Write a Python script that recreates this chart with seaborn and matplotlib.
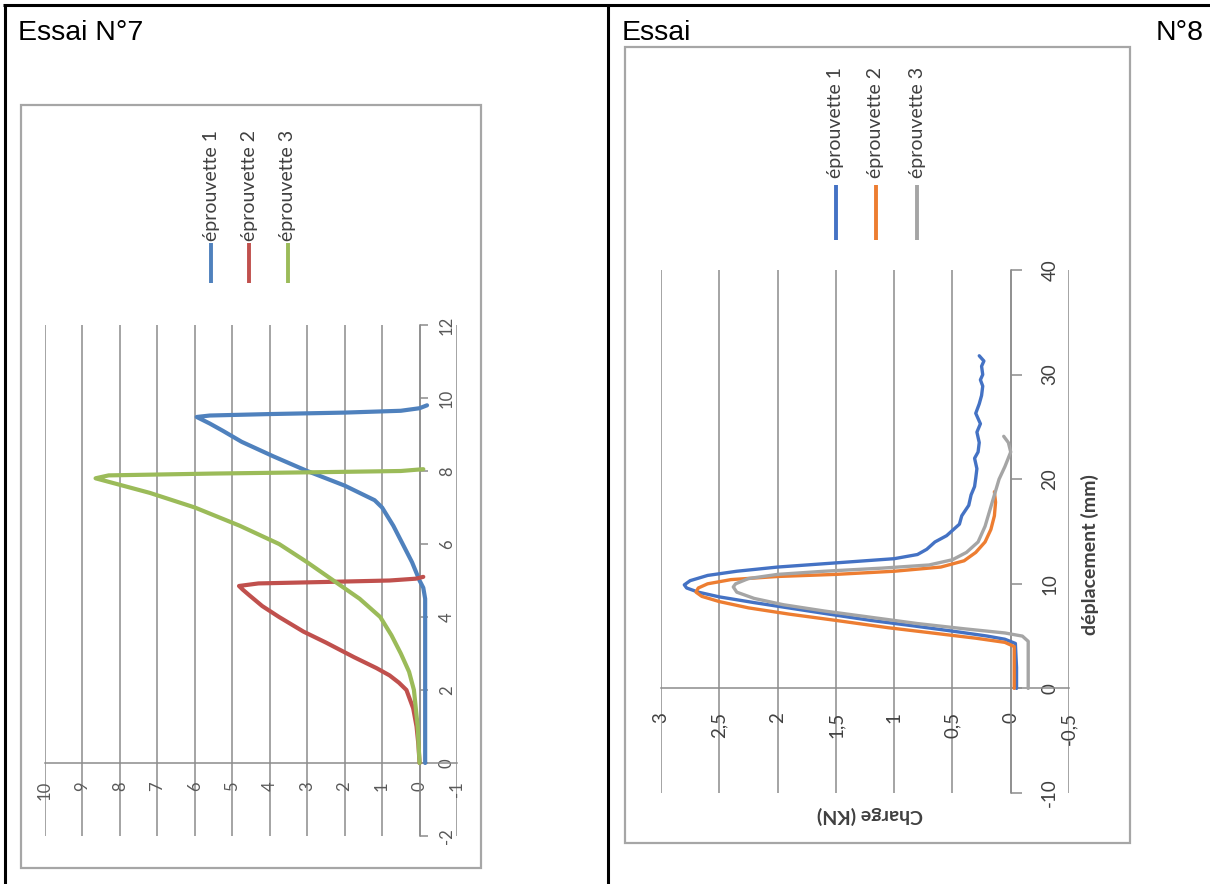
import numpy as np
import pandas as pd
import matplotlib
matplotlib.use("Agg")
import matplotlib.pyplot as plt
import seaborn as sns
from matplotlib.lines import Line2D
from matplotlib.patches import Rectangle

# ---------------- data ----------------
series_names = ["éprouvette 1", "éprouvette 2", "éprouvette 3"]

# Essai N°7 : déplacement (mm) / charge
e7_disp_1 = [0, 2, 4.5, 4.8, 5.0, 5.5, 6.0, 6.5, 7.0, 7.2, 7.4, 7.6, 8.0, 8.4, 8.8, 9.1, 9.3, 9.48, 9.52, 9.56, 9.6, 9.65, 9.72, 9.8]
e7_load_1 = [-0.15, -0.15, -0.15, -0.1, 0.0, 0.2, 0.45, 0.7, 1.0, 1.2, 1.6, 2.0, 3.0, 3.9, 4.75, 5.25, 5.6, 5.95, 5.6, 4.0, 2.0, 0.5, 0.0, -0.2]
e7_disp_2 = [0, 0.5, 1.0, 1.5, 2.0, 2.2, 2.4, 2.6, 2.9, 3.3, 3.6, 4.0, 4.3, 4.6, 4.75, 4.85, 4.92, 4.96, 5.0, 5.05, 5.1]
e7_load_2 = [0.0, 0.03, 0.08, 0.17, 0.35, 0.55, 0.8, 1.15, 1.75, 2.5, 3.1, 3.75, 4.2, 4.55, 4.72, 4.82, 4.3, 2.5, 0.8, 0.1, -0.1]
e7_disp_3 = [0, 1, 2, 2.5, 3, 3.5, 4, 4.5, 5, 5.5, 6, 6.5, 7, 7.4, 7.8, 7.88, 7.93, 7.97, 8.0, 8.05]
e7_load_3 = [0.0, 0.05, 0.15, 0.28, 0.5, 0.75, 1.05, 1.6, 2.3, 3.0, 3.75, 4.8, 6.0, 7.2, 8.65, 8.3, 5.5, 2.5, 0.5, -0.1]

# Essai N°8 : déplacement (mm) / charge (KN)
e8_disp_1 = [0, 2.0, 4.3, 4.7, 5.0, 5.4, 6.0, 6.5, 7.0, 7.6, 8.2, 8.75, 9.2, 9.6, 9.9, 10.3, 10.8, 11.2, 11.6, 12.0, 12.4, 12.8, 13.3, 14.0, 14.6, 15.1, 15.7, 16.5, 17.5, 18.5, 19.3, 20.1, 21.0, 22.0, 22.6, 23.5, 24.5, 25.3, 26.3, 27.2, 28.0, 28.9, 29.5, 30.0, 30.8, 31.3, 31.8]
e8_load_1 = [-0.05, -0.05, -0.04, 0.05, 0.2, 0.45, 0.85, 1.2, 1.5, 1.85, 2.2, 2.5, 2.68, 2.78, 2.8, 2.75, 2.6, 2.35, 2.0, 1.5, 1.0, 0.8, 0.72, 0.65, 0.55, 0.5, 0.44, 0.42, 0.36, 0.34, 0.31, 0.3, 0.29, 0.31, 0.28, 0.27, 0.29, 0.26, 0.3, 0.27, 0.25, 0.24, 0.26, 0.24, 0.25, 0.23, 0.27]
e8_disp_2 = [0, 2.0, 4.0, 4.4, 4.8, 5.2, 5.8, 6.5, 7.1, 7.7, 8.3, 8.8, 9.2, 9.6, 10.0, 10.4, 10.7, 10.9, 11.2, 11.6, 12.2, 13.0, 14.0, 15.2, 16.5, 17.8, 18.8]
e8_load_2 = [-0.03, -0.03, -0.03, 0.05, 0.3, 0.6, 1.05, 1.5, 1.9, 2.25, 2.5, 2.65, 2.7, 2.68, 2.6, 2.4, 2.0, 1.5, 1.0, 0.6, 0.4, 0.3, 0.22, 0.17, 0.14, 0.13, 0.14]
e8_disp_3 = [0, 2.0, 4.5, 5.0, 5.3, 5.7, 6.2, 6.8, 7.4, 8.0, 8.6, 9.2, 9.7, 10.0, 10.5, 10.9, 11.2, 11.5, 11.8, 12.3, 13.0, 14.0, 15.5, 17.0, 18.5, 20.0, 21.2, 22.6, 23.5, 24.1]
e8_load_3 = [-0.15, -0.15, -0.15, -0.1, 0.05, 0.4, 0.8, 1.2, 1.6, 1.95, 2.2, 2.35, 2.38, 2.36, 2.25, 2.0, 1.6, 1.1, 0.7, 0.5, 0.38, 0.28, 0.22, 0.18, 0.14, 0.1, 0.05, 0.0, 0.02, 0.06]

e7_load_ticks = [-1, 0, 1, 2, 3, 4, 5, 6, 7, 8, 9, 10]
e7_load_labels = ["-1", "0", "1", "2", "3", "4", "5", "6", "7", "8", "9", "10"]
e7_disp_ticks = [-2, 0, 2, 4, 6, 8, 10, 12]
e8_load_ticks = [-0.5, 0, 0.5, 1, 1.5, 2, 2.5, 3]
e8_load_labels = ["-0,5", "0", "0,5", "1", "1,5", "2", "2,5", "3"]
e8_disp_ticks = [-10, 0, 10, 20, 30, 40]

colors7 = ["#4F81BD", "#C0504D", "#9BBB59"]
colors8 = ["#4472C4", "#ED7D31", "#A5A5A5"]


def make_df(pairs):
    frames = []
    for name, (d, c) in zip(series_names, pairs):
        frames.append(pd.DataFrame({"deplacement": d, "charge": c, "serie": name}))
    return pd.concat(frames, ignore_index=True)


df7 = make_df([(e7_disp_1, e7_load_1), (e7_disp_2, e7_load_2), (e7_disp_3, e7_load_3)])
df8 = make_df([(e8_disp_1, e8_load_1), (e8_disp_2, e8_load_2), (e8_disp_3, e8_load_3)])

# ---------------- style ----------------
sns.set_theme(style="white")
plt.rcParams['font.family'] = ['Lato', 'DejaVu Sans']
plt.rcParams['axes.unicode_minus'] = False

W, H = 1210, 884
fig = plt.figure(figsize=(W / 100, H / 100), dpi=100)


def fx(x):
    return x / W


def fy(y):
    return 1 - y / H


def add_axes_px(x0, y0, x1, y1):
    ax = fig.add_axes([fx(x0), fy(y1), (x1 - x0) / W, (y1 - y0) / H])
    ax.set_facecolor("none")
    return ax


def fig_line(xs, ys, color="black", lw=2.0, z=3):
    fig.add_artist(Line2D([fx(x) for x in xs], [fy(y) for y in ys],
                          transform=fig.transFigure, color=color, lw=lw, zorder=z,
                          solid_capstyle="butt"))


# table borders
fig_line([3, 1210], [5, 5], lw=2.2)
fig_line([5, 5], [4, 884], lw=2.2)
fig_line([608, 608], [4, 884], lw=2.2)

fig.text(fx(18), fy(40), "Essai N°7", fontsize=20.5, family="Liberation Sans", va="baseline", color="black")
fig.text(fx(622), fy(40), "Essai", fontsize=20.5, family="Liberation Sans", va="baseline", color="black")
fig.text(fx(1204), fy(40), "N°8", fontsize=20.5, family="Liberation Sans", va="baseline", ha="right", color="black")

# chart frames
for (x0, y0, x1, y1) in [(21, 105, 481, 868), (625, 47, 1130, 843)]:
    fig.add_artist(Rectangle((fx(x0), fy(y1)), (x1 - x0) / W, (y1 - y0) / H,
                             transform=fig.transFigure, fill=False, ec="#a6a6a6", lw=1.6, zorder=1))


def setup_axes(ax, xlim, ylim, xticks, xlabels, yticks, grid_color, tick_size,
               ylab_pad, xlab_pad, tick_len, label_color):
    ax.set_xlim(*xlim)
    ax.set_ylim(*ylim)
    ax.set_xticks(xticks)
    ax.set_xticklabels(xlabels)
    ax.set_yticks(yticks)
    ax.set_yticklabels([str(v) for v in yticks])
    ax.grid(axis="x", color=grid_color, lw=1.1)
    ax.grid(axis="y", visible=False)
    ax.set_axisbelow(True)
    ax.spines["top"].set_visible(False)
    ax.spines["left"].set_visible(False)
    ax.spines["right"].set_position(("data", 0))
    ax.spines["bottom"].set_position(("data", 0))
    for s in ["right", "bottom"]:
        ax.spines[s].set_color(grid_color)
        ax.spines[s].set_linewidth(1.1)
        ax.spines[s].set_zorder(0.6)
    ax.yaxis.tick_right()
    ax.tick_params(axis="y", which="both", direction="out", length=tick_len, width=1.1,
                   color=grid_color, pad=ylab_pad, labelsize=tick_size,
                   labelcolor=label_color, labelrotation=90, left=False, right=True)
    ax.tick_params(axis="x", length=0, pad=xlab_pad, labelsize=tick_size,
                   labelcolor=label_color, labelrotation=90)
    for t in ax.get_yticklabels():
        t.set_va("center")
        t.set_bbox(dict(facecolor="white", edgecolor="none", pad=0.5))
    ax.set_xlabel("")
    ax.set_ylabel("")


# ---------------- Essai N°7 ----------------
ax7 = add_axes_px(45, 325, 457, 836)
sns.lineplot(data=df7, x="charge", y="deplacement", hue="serie", hue_order=series_names,
             units="serie", palette=colors7, sort=False, estimator=None, legend=False,
             ax=ax7, lw=3.0)
setup_axes(ax7, (10, -1), (-2, 12), e7_load_ticks, e7_load_labels, e7_disp_ticks,
           "#8c8c8c", 12, 8, 13, 6, "#595959")

# ---------------- Essai N°8 ----------------
ax8 = add_axes_px(661, 270, 1069, 793)
sns.lineplot(data=df8, x="charge", y="deplacement", hue="serie", hue_order=series_names,
             units="serie", palette=colors8, sort=False, estimator=None, legend=False,
             ax=ax8, lw=2.4)
setup_axes(ax8, (3, -0.5), (-10, 40), e8_load_ticks, e8_load_labels, e8_disp_ticks,
           "#8c8c8c", 13.5, 14, 17, 8, "#404040")
ax8.yaxis.set_label_position("right")
ax8.set_ylabel("déplacement (mm)", fontsize=14, fontweight="bold", color="#404040",
               rotation=90, va="center", ha="center")
ax8.yaxis.set_label_coords((1090 - 661) / 408, (793 - 555) / 523)
ax8.set_xlabel("Charge (KN)", fontsize=14, fontweight="bold", color="#404040",
               rotation=180, va="center", ha="center")
ax8.xaxis.set_label_coords((870 - 661) / 408, -(815 - 793) / 523)

# ---------------- legends (rotated like the charts) ----------------
def draw_legend(xs, y_line_top, y_line_bot, y_text_bot, colors, fontsize, lw):
    for x, c, n in zip(xs, colors, series_names):
        fig_line([x, x], [y_line_top, y_line_bot], color=c, lw=lw)
        fig.text(fx(x), fy(y_text_bot), n, rotation=90, ha="center", va="bottom",
                 fontsize=fontsize, color="#404040")


draw_legend([211, 249, 288], 243, 283, 241, colors7, 14, 2.8)
draw_legend([836, 876, 917], 185, 240, 178, colors8, 14, 2.8)

fig.savefig("out.png", dpi=100)
